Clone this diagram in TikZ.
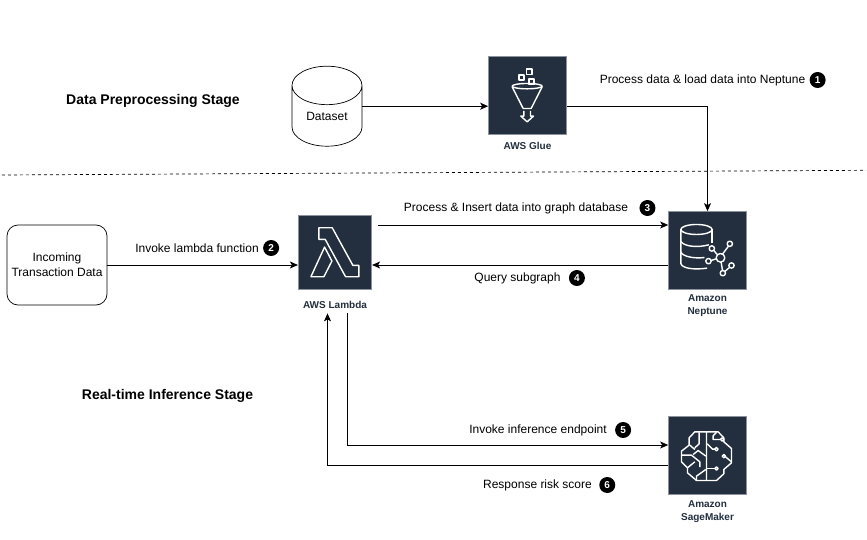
\documentclass[tikz,border=0pt]{standalone}
\usepackage{fontspec}
\setmainfont{Liberation Sans}
\usetikzlibrary{shapes.geometric, arrows.meta, positioning}
\definecolor{awsdark}{HTML}{232F3E}
\definecolor{awsedge}{HTML}{8C939C}
\tikzset{
  % Service icons
  awsbox/.style={
    rectangle, minimum width=78pt, minimum height=78pt, inner sep=0pt,
    draw=awsedge, fill=awsdark, line width=0.7pt,
  },
  % Captions under the icons
  awstext/.style={
    font=\fontsize{10}{13}\selectfont\bfseries, text=awsdark, align=center, inner sep=0pt,
  },
  % Data stores
  datastore/.style={
    cylinder, shape border rotate=90, aspect=0.93, draw=black, fill=white,
    minimum width=70pt, minimum height=80pt, inner sep=0pt, line width=0.7pt,
    font=\fontsize{12}{14}\selectfont,
  },
  % External systems
  external/.style={
    rectangle, rounded corners=11pt, minimum width=100pt, minimum height=80pt,
    draw=black, align=center, line width=0.7pt, font=\fontsize{12}{15}\selectfont,
  },
  % Arrows
  myarrow/.style={-{Stealth[length=8pt,width=7pt,inset=2pt]}, line width=0.8pt},
  % Labels on arrows
  arrlabel/.style={font=\fontsize{12}{14}\selectfont, inner sep=0pt},
  stagetitle/.style={font=\fontsize{14}{16}\selectfont\bfseries, inner sep=0pt},
  badge/.style={
    circle, fill=black, text=white, minimum size=16pt, inner sep=0pt,
    font=\fontsize{10}{10}\selectfont\bfseries,
  },
  % Icon lines
  iconline/.style={draw=white, line width=1.4pt, line join=round, fill=none},
}
\begin{document}
\begin{tikzpicture}[x=1pt, y=-1pt]
  \useasboundingbox[fill=white] (0,0) rectangle (867,540);

  % Stage titles
  \node[stagetitle] (prestage) at (153,101) {Data Preprocessing Stage};
  \node[stagetitle] (infstage) at (167.5,396) {Real-time Inference Stage};

  % Stage divider
  \coordinate (divl) at (2,175);
  \coordinate (divr) at (866,170.3);
  \draw[dashed, line width=0.7pt] (divl) -- (divr);

  % Boxes
  \node[datastore] (dataset) at (327,116) {Dataset};
  \node[awsbox] (glue) at (527.5,95.5) {};
  \node[awstext, below=7pt of glue] (gluetext) {AWS Glue};
  \node[external] (incoming) at (57,265) {Incoming\\Transaction Data};
  \node[awsbox, minimum width=73.5pt, minimum height=73.5pt] (lambda) at (335,252.5) {};
  \node[awstext, below=11pt of lambda] (lambdatext) {AWS Lambda};
  \node[awsbox] (neptune) at (707.5,250.5) {};
  \node[awstext, below=5pt of neptune] (neptunetext) {Amazon\\Neptune};
  \node[awsbox] (sage) at (707.5,455.5) {};
  \node[awstext, below=6pt of sage] (sagetext) {Amazon\\SageMaker};

  % Labels on arrows
  \node[arrlabel] (lab1) at (702.5,80) {Process data \& load data into Neptune};
  \node[badge, right=4pt of lab1] (num1) {1};
  \node[arrlabel] (lab2) at (197,248) {Invoke lambda function};
  \node[badge, right=4pt of lab2] (num2) {2};
  \node[arrlabel] (lab3) at (516,208) {Process \& Insert data into graph database};
  \node[badge, right=11pt of lab3] (num3) {3};
  \node[arrlabel] (lab4) at (517.5,278) {Query subgraph};
  \node[badge, right=8pt of lab4] (num4) {4};
  \node[arrlabel] (lab5) at (538,430) {Invoke inference endpoint};
  \node[badge, right=8pt of lab5] (num5) {5};
  \node[arrlabel] (lab6) at (537.5,485) {Response risk score};
  \node[badge, right=7pt of lab6] (num6) {6};

  % Arrows
  \coordinate (dsout) at (dataset.shape center -| dataset.east);
  \draw[myarrow] (dsout) -- (dsout -| glue.west);
  \draw[myarrow] (dsout -| glue.east) -| (neptune.north);
  \draw[myarrow] (incoming.east) -- (incoming.east -| lambda.west);
  \coordinate (lamout) at ([shift={(6,-27.5)}]lambda.east);
  \draw[myarrow] (lamout) -- (lamout -| neptune.west);
  \draw[myarrow] ([yshift=-14.5pt]neptune.west) -- ([yshift=-14.5pt]neptune.west -| lambda.east);
  \coordinate (lamdown) at ([shift={(12.5,5)}]lambdatext.south);
  \coordinate (lamup) at ([shift={(-7.5,5)}]lambdatext.south);
  \draw[myarrow] (lamdown) |- ([yshift=10.5pt]sage.west);
  \draw[myarrow] ([yshift=-10pt]sage.west) -| (lamup);

  % Glue icon
  \begin{scope}[shift={(glue.north west)}, x=.3333pt, y=-.3333pt, shift={(-55,-48)}]
    \draw[iconline] (172,138) ellipse (45 and 8);
    \draw[iconline] (127,140) -- (160,205) -- (184,205) -- (217,140);
    \draw[iconline] (162,212) -- (162,228) -- (153,228) -- (172,245) -- (191,228) -- (182,228) -- (182,212);
    \draw[iconline] (147,104) rectangle (163,120);
    \draw[iconline] (170,87) rectangle (186,103);
    \draw[iconline] (177,117) rectangle (193,133);
  \end{scope}

  % Lambda icon
  \begin{scope}[shift={(lambda.north west)}, x=.3333pt, y=-.3333pt, shift={(-55,-48)}]
    \draw[iconline] (118,85) -- (158,85) -- (220,198) -- (238,198) -- (238,232) -- (198,232) -- (137,120) -- (118,120) -- cycle;
    \draw[iconline] (135,143) -- (157,185) -- (133,232) -- (94,232) -- cycle;
  \end{scope}

  % Neptune icon
  \begin{scope}[shift={(neptune.north west)}, x=.3333pt, y=-.3333pt, shift={(-55,-35)}]
    \draw[iconline] (140,90) ellipse (47 and 15);
    \draw[iconline] (187,90) -- (187,130);
    \draw[iconline] (93,90) -- (93,192) .. controls (96,206) and (130,212) .. (172,206);
    \draw[iconline] (93,125) .. controls (100,140) and (140,146) .. (177,136);
    \draw[iconline] (93,158) .. controls (100,172) and (135,178) .. (164,174);
    \draw[iconline] (212,175) circle (13);
    \draw[iconline] (240,133) circle (8);
    \draw[iconline] (186,147) circle (8);
    \draw[iconline] (176,185) circle (8);
    \draw[iconline] (219,221) circle (8);
    \draw[iconline] (245,198) circle (8);
    \draw[iconline] (218,164) -- (236,140) (192,153) -- (203,166) (184,183) -- (199,178) (214,188) -- (218,213) (225,216) -- (239,204);
  \end{scope}

  % SageMaker icon
  \begin{scope}[shift={(sage.north west)}, x=.3333pt, y=-.3333pt, shift={(-55,-35)}]
    \draw[iconline] (170,82) -- (135,82) -- (118,100) -- (118,122) -- (95,140) -- (95,172) -- (113,190) -- (113,205) -- (140,228) -- (170,228) -- cycle;
    \draw[iconline] (172,82) -- (205,82) -- (222,100) -- (222,112) -- (245,132) -- (245,175) -- (222,195) -- (222,208) -- (200,228) -- (172,228);
    \draw[iconline] (148,84) -- (148,118) -- (135,130) (120,122) -- (135,135);
    \draw[iconline] (97,152) -- (125,152) -- (150,172) -- (150,188);
    \draw[iconline] (113,190) -- (135,172);
    \draw[iconline] (130,150) -- (145,138) -- (168,155);
    \draw[iconline] (140,228) -- (140,215) -- (168,195);
    \draw[iconline] (172,118) -- (188,134) -- (195,134);
    \draw[iconline] (200,134) circle (5);
    \draw[iconline] (217,105) circle (5);
    \draw[iconline] (200,84) -- (190,94) -- (190,105) -- (212,105);
    \draw[iconline] (222,155) circle (5);
    \draw[iconline] (227,157) -- (245,172);
    \draw[iconline] (172,192) -- (195,192);
    \draw[iconline] (200,192) circle (5);
  \end{scope}
\end{tikzpicture}
\end{document}
